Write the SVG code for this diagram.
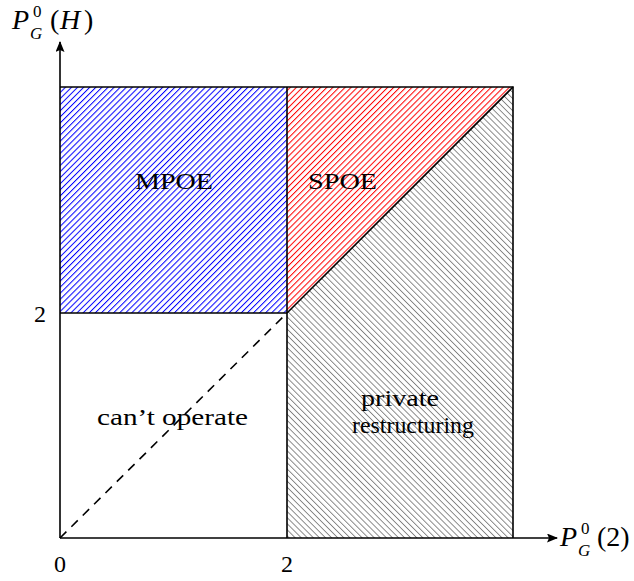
<svg xmlns="http://www.w3.org/2000/svg" width="634" height="581" viewBox="0 0 634 581">
<style>
.t{font-family:"Liberation Serif","DejaVu Serif",serif;font-size:24px;fill:#000}
.ax{font-size:28px}
.i{font-style:italic}
.s{font-size:17px}
.edge{stroke:#000;stroke-width:1.6;fill:none}
</style>
<defs>
<pattern id="ne-blue" patternUnits="userSpaceOnUse" width="4.3" height="10" patternTransform="rotate(45)">
<rect x="0" y="0" width="1" height="10" fill="#0000ff"/>
</pattern>
<pattern id="ne-red" patternUnits="userSpaceOnUse" width="4.3" height="10" patternTransform="rotate(45)">
<rect x="0" y="0" width="1" height="10" fill="#ff0000"/>
</pattern>
<pattern id="nw-gray" patternUnits="userSpaceOnUse" width="4.3" height="10" patternTransform="rotate(-45)">
<rect x="0" y="0" width="0.9" height="10" fill="#808080"/>
</pattern>
<marker id="arr" markerWidth="11" markerHeight="9" refX="10" refY="4.5" orient="auto" markerUnits="userSpaceOnUse">
<path d="M0,0 L11,4.5 L0,9 L2,4.5 Z" fill="#000"/>
</marker>
</defs>
<g id="region-mpoe">
<rect x="60" y="87" width="227" height="226" fill="url(#ne-blue)"/>
<text class="t" x="135" y="189" textLength="78" lengthAdjust="spacingAndGlyphs">MPOE</text>
</g>
<g id="region-spoe">
<polygon points="287,87 513,87 287,313" fill="url(#ne-red)"/>
<text class="t" x="308" y="189" textLength="69" lengthAdjust="spacingAndGlyphs">SPOE</text>
</g>
<g id="region-private">
<polygon points="287,313 513,87 513,538 287,538" fill="url(#nw-gray)"/>
<text class="t" x="361" y="406" textLength="78" lengthAdjust="spacingAndGlyphs">private</text>
<text class="t" x="352" y="433" textLength="122" lengthAdjust="spacingAndGlyphs">restructuring</text>
</g>
<g id="region-cant">
<text class="t" x="97" y="425" textLength="151" lengthAdjust="spacingAndGlyphs">can’t operate</text>
</g>
<g id="connectors">
<line class="edge" x1="60" y1="538" x2="60" y2="42" marker-end="url(#arr)"/>
<line class="edge" x1="60" y1="538" x2="557" y2="538" marker-end="url(#arr)"/>
<path class="edge" d="M60,87 H513 V538 M287,87 V538 M60,313 H287"/>
<line class="edge" x1="287" y1="313" x2="513" y2="87"/>
<line class="edge" x1="60" y1="538" x2="287" y2="313" stroke-dasharray="9,7"/>
</g>
<g id="labels">
<text class="t ax"><tspan class="i" x="12" y="29">P</tspan><tspan x="50" y="29">(</tspan><tspan class="i" x="60" y="29">H</tspan><tspan x="84" y="29">)</tspan></text>
<text class="t s" x="33" y="17">0</text>
<text class="t s i" x="30" y="39">G</text>
<text class="t ax"><tspan class="i" x="560" y="546">P</tspan><tspan x="597" y="546">(2)</tspan></text>
<text class="t s" x="581" y="534">0</text>
<text class="t s i" x="578" y="556">G</text>
<text class="t" x="40" y="322" text-anchor="middle">2</text>
<text class="t" x="60" y="572" text-anchor="middle">0</text>
<text class="t" x="287" y="572" text-anchor="middle">2</text>
</g>
</svg>
